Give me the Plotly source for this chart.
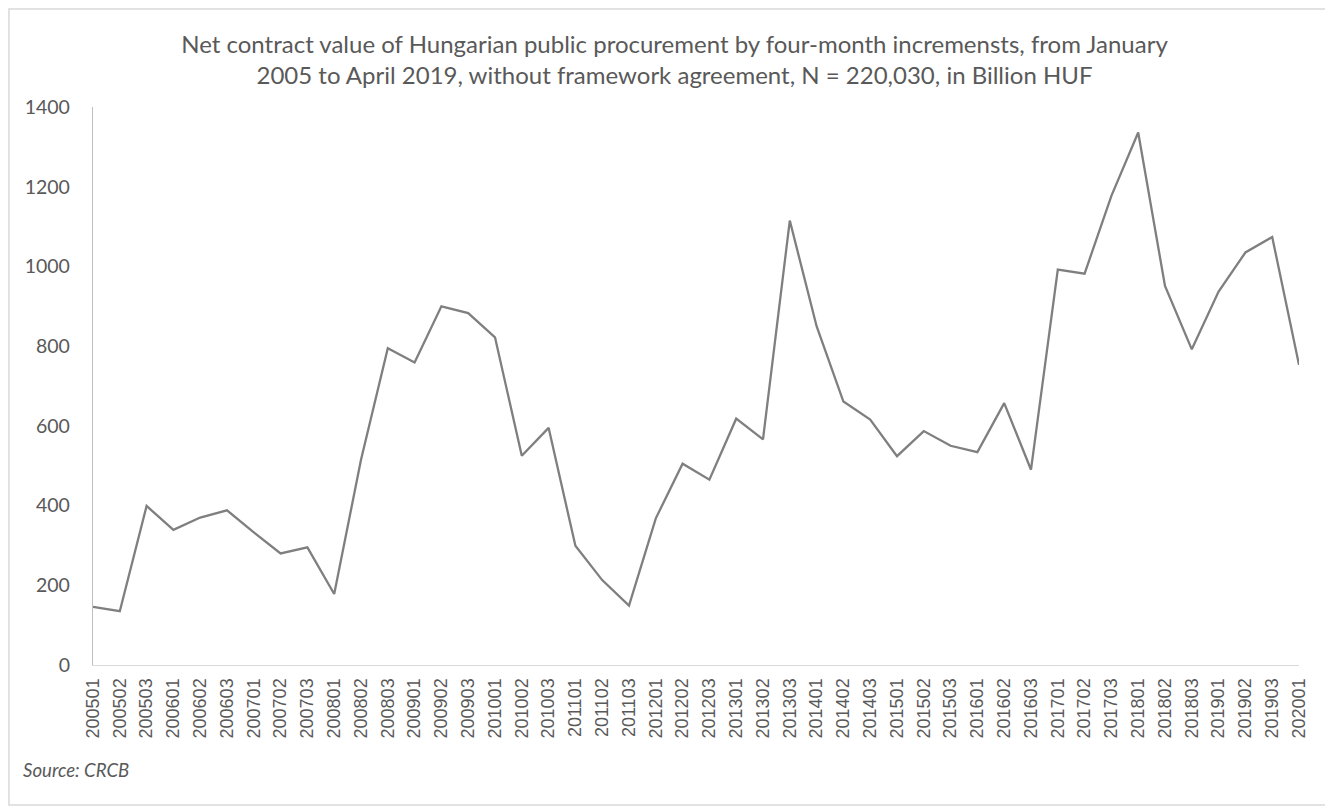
import plotly.graph_objects as go

periods = ["200501","200502","200503","200601","200602","200603","200701","200702","200703",
           "200801","200802","200803","200901","200902","200903","201001","201002","201003",
           "201101","201102","201103","201201","201202","201203","201301","201302","201303",
           "201401","201402","201403","201501","201502","201503","201601","201602","201603",
           "201701","201702","201703","201801","201802","201803","201901","201902","201903",
           "202001"]
values = [146, 135, 399, 339, 370, 388, 333, 280, 295,
          178, 515, 795, 759, 900, 883, 822, 525, 595,
          299, 213, 149, 368, 505, 465, 618, 566, 1115,
          850, 661, 616, 524, 587, 550, 534, 657, 490,
          992, 982, 1177, 1336, 951, 792, 937, 1035, 1074,
          753]
y_ticks = [0, 200, 400, 600, 800, 1000, 1200, 1400]

title_text = ("Net contract value of Hungarian public procurement by four-month incremensts, from January<br>"
              "2005 to April 2019, without framework agreement, N = 220,030, in Billion HUF")
source_text = "Source: CRCB"

fig = go.Figure()
fig.add_trace(go.Scatter(x=periods, y=values, mode="lines",
                         line=dict(color="#7f7f7f", width=2.3), showlegend=False,
                         hoverinfo="x+y"))

fig.update_layout(
    width=1333, height=810,
    paper_bgcolor="white", plot_bgcolor="white",
    margin=dict(l=85, r=42, t=99, b=153),
    font=dict(family="Lato, Open Sans, sans-serif", color="#595959"),
    title=dict(text=title_text, x=0.5, xanchor="center", y=0.945, yanchor="top",
               font=dict(size=24, color="#595959", family="Lato, Open Sans, sans-serif")),
    xaxis=dict(type="category", tickangle=-90, showgrid=False, showline=True,
               linecolor="#d9d9d9", linewidth=1.3, ticks="", ticklabelstandoff=5,
               tickfont=dict(size=18, family="Liberation Sans, Arial, sans-serif", color="#595959")),
    yaxis=dict(range=[0, 1400], tickvals=y_ticks, showgrid=False, showline=True,
               linecolor="#bfbfbf", linewidth=1.3, ticks="", zeroline=False,
               ticklabelstandoff=18,
               tickfont=dict(size=19.5, family="Lato, Open Sans, sans-serif", color="#595959")),
    shapes=[dict(type="rect", xref="paper", yref="paper",
                 x0=-0.0697, x1=1.024, y0=-0.2509, y1=1.1756,
                 line=dict(color="#d9d9d9", width=1.5), fillcolor="rgba(0,0,0,0)")],
    annotations=[dict(text="<i>" + source_text + "</i>", xref="paper", yref="paper",
                      x=-0.0597, y=-0.188, xanchor="left", yanchor="middle", showarrow=False,
                      font=dict(size=18.6, color="#595959", family="Lato, Open Sans, sans-serif"))],
)

fig.write_html("out.html")
